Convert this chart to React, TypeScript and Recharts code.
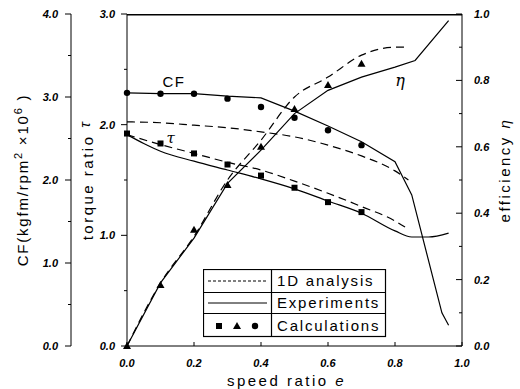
import {
  ComposedChart,
  XAxis,
  YAxis,
  Line,
  Scatter,
  ReferenceDot,
  Legend,
} from "recharts";

// experiments (solid)
const cfExpE = [0, 0.1, 0.2, 0.3, 0.4, 0.5, 0.6, 0.7, 0.8, 0.85, 0.94, 0.96];
const cfExpV = [3.05, 3.04, 3.04, 3.01, 2.99, 2.83, 2.65, 2.46, 2.22, 1.82, 0.4, 0.25];
const tauExpE = [0, 0.05, 0.1, 0.2, 0.3, 0.4, 0.5, 0.6, 0.7, 0.8, 0.85, 0.9, 0.96];
const tauExpV = [1.91, 1.83, 1.76, 1.67, 1.59, 1.51, 1.42, 1.31, 1.2, 1.04, 0.985, 0.985, 1.02];
const etaExpE = [0, 0.1, 0.2, 0.3, 0.4, 0.5, 0.6, 0.7, 0.8, 0.86, 0.96];
const etaExpV = [0, 0.19, 0.325, 0.49, 0.59, 0.7, 0.77, 0.81, 0.84, 0.86, 0.98];

// 1D analysis (dashed)
const cf1dE = [0, 0.1, 0.2, 0.3, 0.4, 0.5, 0.6, 0.7, 0.8, 0.84];
const cf1dV = [2.7, 2.69, 2.66, 2.63, 2.58, 2.52, 2.42, 2.29, 2.11, 2.0];
const tau1dE = [0, 0.1, 0.2, 0.3, 0.4, 0.5, 0.6, 0.7, 0.8, 0.83];
const tau1dV = [1.91, 1.82, 1.74, 1.66, 1.59, 1.49, 1.38, 1.26, 1.13, 1.075];
const eta1dE = [0, 0.1, 0.2, 0.3, 0.4, 0.5, 0.6, 0.7, 0.8, 0.84];
const eta1dV = [0, 0.19, 0.33, 0.5, 0.62, 0.75, 0.81, 0.876, 0.9, 0.9];

// calculations (markers)
const calcE = [0, 0.1, 0.2, 0.3, 0.4, 0.5, 0.6, 0.7];
const calcCf = [3.05, 3.04, 3.04, 2.98, 2.88, 2.75, 2.6, 2.42];
const calcTau = [1.92, 1.83, 1.74, 1.64, 1.54, 1.43, 1.3, 1.21];
const calcEta = [0, 0.184, 0.35, 0.485, 0.6, 0.714, 0.786, 0.85];

// top edge of the frame, just under CF = 4.0
const frameE = [0, 1];
const frameV = [3.99, 3.99];

const eTicks = [0, 0.2, 0.4, 0.6, 0.8, 1.0];
const cfTicks = [0, 0.5, 1, 1.5, 2, 2.5, 3, 3.5, 4];
const tauTicks = [0, 0.5, 1, 1.5, 2, 2.5, 3];
const etaTicks = [0, 0.1, 0.2, 0.3, 0.4, 0.5, 0.6, 0.7, 0.8, 0.9, 1.0];

const pts = (e: number[], v: number[]) => e.map((x, i) => ({ e: x, v: v[i] }));

// axis ids: recharts stacks left axes by id, first one sits next to the plot
const TAU = "y1";
const CF = "y2";
const ETA = "y3";

const tickFont = {
  fontFamily: "Liberation Sans",
  fontStyle: "italic",
  fontWeight: "bold",
  fontSize: 11,
};
const labelFont = { fontFamily: "Liberation Sans", fontSize: 15, fill: "#000" };

const near = (v: number, step: number) => Math.abs(v / step - Math.round(v / step)) < 1e-6;

function makeTick(side: "left" | "right" | "bottom", margin: number, majorStep: number) {
  return (p: any) => {
    const v = p.payload.value;
    const major = near(v, majorStep);
    const len = major ? 6 : 3;
    if (side === "left") {
      const ax = p.x + margin;
      return (
        <g>
          <line x1={ax - len} x2={ax} y1={p.y} y2={p.y} stroke="#000" />
          {major && (
            <text x={p.x} y={p.y} dy={4} textAnchor="end" {...tickFont}>
              {v.toFixed(1)}
            </text>
          )}
        </g>
      );
    }
    if (side === "right") {
      const ax = p.x - margin;
      return (
        <g>
          <line x1={ax - len} x2={ax} y1={p.y} y2={p.y} stroke="#000" />
          {major && (
            <text x={p.x + 2} y={p.y} dy={4} textAnchor="start" {...tickFont}>
              {v.toFixed(1)}
            </text>
          )}
        </g>
      );
    }
    const ay = p.y - margin;
    return (
      <g>
        <line x1={p.x} x2={p.x} y1={ay - 4} y2={ay} stroke="#000" />
        <text x={p.x} y={p.y} dy={9} textAnchor="middle" {...tickFont}>
          {v.toFixed(1)}
        </text>
      </g>
    );
  };
}

const XTitle = ({ viewBox }: any) => (
  <text x={viewBox.x + viewBox.width / 2 - 8} y={viewBox.y + 40} textAnchor="middle" letterSpacing={2.5} {...labelFont}>
    speed ratio <tspan fontStyle="italic">e</tspan>
  </text>
);

const CfTitle = ({ viewBox }: any) => {
  const cx = viewBox.x + 23;
  const cy = viewBox.y + viewBox.height / 2;
  return (
    <text x={cx} y={cy} transform={`rotate(-90 ${cx} ${cy})`} textAnchor="middle" dy={5} letterSpacing={1.8} {...labelFont}>
      CF(kgfm/rpm<tspan dy={-6} fontSize={11}>2</tspan>
      <tspan dy={6}> ×10</tspan>
      <tspan dy={-6} fontSize={11}>6</tspan>
      <tspan dy={6}> )</tspan>
    </text>
  );
};

const TauTitle = ({ viewBox }: any) => {
  const cx = viewBox.x + 17;
  const cy = viewBox.y + viewBox.height / 2;
  return (
    <text x={cx} y={cy} transform={`rotate(-90 ${cx} ${cy})`} textAnchor="middle" dy={5} letterSpacing={2.5} {...labelFont}>
      torque ratio <tspan fontStyle="italic" dy={-3}>τ</tspan>
    </text>
  );
};

const EtaTitle = ({ viewBox }: any) => {
  const cx = viewBox.x + 43;
  const cy = viewBox.y + viewBox.height / 2 - 10;
  return (
    <text x={cx} y={cy} transform={`rotate(-90 ${cx} ${cy})`} textAnchor="middle" dy={5} letterSpacing={2.5} {...labelFont}>
      efficiency <tspan fontStyle="italic">η</tspan>
    </text>
  );
};

const square = (p: any) => <rect x={p.cx - 3} y={p.cy - 3} width={6} height={6} fill="#000" />;
const triangle = (p: any) => (
  <path d={`M${p.cx},${p.cy - 4}L${p.cx + 4},${p.cy + 3}L${p.cx - 4},${p.cy + 3}Z`} fill="#000" />
);
const circle = (p: any) => <circle cx={p.cx} cy={p.cy} r={3.2} fill="#000" />;

const LegendBox = () => (
  <svg width={184} height={69} style={{ display: "block" }}>
    <rect x={0.5} y={0.5} width={182} height={67} fill="#fff" stroke="#000" strokeWidth={1.2} />
    <line x1={0.5} x2={182.5} y1={23.5} y2={23.5} stroke="#000" strokeWidth={1.2} />
    <line x1={0.5} x2={182.5} y1={44.5} y2={44.5} stroke="#000" strokeWidth={1.2} />
    <line x1={68.5} x2={68.5} y1={0.5} y2={67.5} stroke="#000" strokeWidth={1.2} />
    <line x1={5} x2={64} y1={12} y2={12} stroke="#000" strokeDasharray="3 2" />
    <line x1={5} x2={64} y1={34} y2={34} stroke="#000" />
    {square({ cx: 16, cy: 57 })}
    {triangle({ cx: 34, cy: 57 })}
    {circle({ cx: 52, cy: 57 })}
    <text x={74} y={17} letterSpacing={1.8} {...labelFont}>1D analysis</text>
    <text x={74} y={39} letterSpacing={1.8} {...labelFont}>Experiments</text>
    <text x={74} y={62} letterSpacing={1.8} {...labelFont}>Calculations</text>
  </svg>
);

export default function App() {
  return (
    <div style={{ position: "absolute", left: 0, top: 0, background: "#fff" }}>
      <ComposedChart width={520} height={389} margin={{ top: 14, right: 0, bottom: 0, left: 0 }}>
        <XAxis
          dataKey="e"
          type="number"
          domain={[0, 1]}
          ticks={eTicks}
          height={43}
          tickSize={0}
          tickMargin={12}
          tickLine={false}
          stroke="#000"
          tick={makeTick("bottom", 12, 0.2)}
          label={<XTitle />}
        />
        <YAxis
          yAxisId={TAU}
          dataKey="v"
          type="number"
          domain={[0, 3]}
          ticks={tauTicks}
          width={56}
          tickSize={0}
          tickMargin={12}
          tickLine={false}
          stroke="#000"
          tick={makeTick("left", 12, 1)}
          label={<TauTitle />}
        />
        <YAxis
          yAxisId={CF}
          dataKey="v"
          type="number"
          domain={[0, 4]}
          ticks={cfTicks}
          width={71}
          tickSize={0}
          tickMargin={13}
          tickLine={false}
          stroke="#000"
          tick={makeTick("left", 13, 1)}
          label={<CfTitle />}
        />
        <YAxis
          yAxisId={ETA}
          orientation="right"
          dataKey="v"
          type="number"
          domain={[0, 1]}
          ticks={etaTicks}
          width={58}
          tickSize={0}
          tickMargin={10}
          tickLine={false}
          stroke="#000"
          tick={makeTick("right", 10, 0.2)}
          label={<EtaTitle />}
        />

        <Line data={pts(frameE, frameV)} yAxisId={CF} dataKey="v" type="linear" stroke="#000" strokeWidth={1.5} dot={false} isAnimationActive={false} />

        <Line data={pts(cfExpE, cfExpV)} yAxisId={CF} dataKey="v" type="linear" stroke="#000" strokeWidth={1.2} dot={false} isAnimationActive={false} />
        <Line data={pts(tauExpE, tauExpV)} yAxisId={TAU} dataKey="v" type="monotone" stroke="#000" strokeWidth={1.2} dot={false} isAnimationActive={false} />
        <Line data={pts(etaExpE, etaExpV)} yAxisId={ETA} dataKey="v" type="linear" stroke="#000" strokeWidth={1.2} dot={false} isAnimationActive={false} />

        <Line data={pts(cf1dE, cf1dV)} yAxisId={CF} dataKey="v" type="monotone" stroke="#000" strokeWidth={1.2} strokeDasharray="8 5" dot={false} isAnimationActive={false} />
        <Line data={pts(tau1dE, tau1dV)} yAxisId={TAU} dataKey="v" type="monotone" stroke="#000" strokeWidth={1.2} strokeDasharray="8 5" dot={false} isAnimationActive={false} />
        <Line data={pts(eta1dE, eta1dV)} yAxisId={ETA} dataKey="v" type="monotone" stroke="#000" strokeWidth={1.2} strokeDasharray="8 5" dot={false} isAnimationActive={false} />

        <Scatter data={pts(calcE, calcCf)} yAxisId={CF} dataKey="v" shape={circle} isAnimationActive={false} />
        <Scatter data={pts(calcE, calcTau)} yAxisId={TAU} dataKey="v" shape={square} isAnimationActive={false} />
        <Scatter data={pts(calcE, calcEta)} yAxisId={ETA} dataKey="v" shape={triangle} isAnimationActive={false} />

        <ReferenceDot yAxisId={CF} x={0.14} y={3.18} r={0} fill="none" stroke="none"
          label={{ value: "CF", position: "center", fill: "#000", fontSize: 15, fontFamily: "Liberation Sans", letterSpacing: 1.5 }} />
        <ReferenceDot yAxisId={TAU} x={0.13} y={1.88} r={0} fill="none" stroke="none"
          label={{ value: "τ", position: "center", fill: "#000", fontSize: 15, fontFamily: "DejaVu Serif", fontStyle: "italic" }} />
        <ReferenceDot yAxisId={ETA} x={0.815} y={0.8} r={0} fill="none" stroke="none"
          label={{ value: "η", position: "center", fill: "#000", fontSize: 16, fontFamily: "DejaVu Serif", fontStyle: "italic" }} />

        <Legend
          layout="horizontal"
          verticalAlign="middle"
          align="center"
          content={<LegendBox />}
          wrapperStyle={{ left: 203, top: 269, width: 184, height: 69 }}
        />
      </ComposedChart>
    </div>
  );
}
